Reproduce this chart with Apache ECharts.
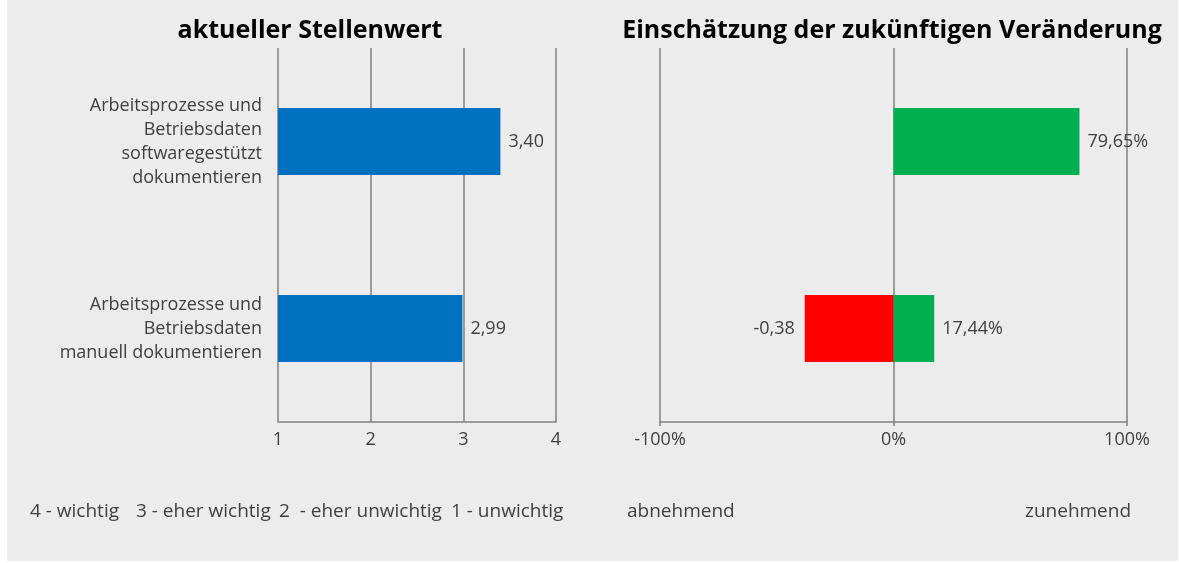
<!DOCTYPE html>
<html>
<head>
<meta charset="utf-8">
<script src="https://cdn.jsdelivr.net/npm/echarts@6/dist/echarts.min.js"></script>
<style>
html,body{margin:0;padding:0;background:#fff;}
#main{width:1179px;height:563px;}
</style>
</head>
<body>
<div id="main"></div>
<script>
// Daten
var categories = [
    'Arbeitsprozesse und\nBetriebsdaten\nmanuell dokumentieren',
    'Arbeitsprozesse und\nBetriebsdaten\nsoftwaregestützt\ndokumentieren'
];
var stellenwert = [2.99, 3.40];
var zunahme = [0.1744, 0.7965];
var abnahme = [-0.38, null];
var legende = ['4 - wichtig', '3 - eher wichtig', '2  - eher unwichtig', '1 - unwichtig'];

var textColor = '#404040';
var lineColor = '#808080';
var fontName = '"Open Sans", "Noto Sans", sans-serif';

function komma(v, n) {
    return v.toFixed(n).replace('.', ',');
}

var legendX = [30, 136, 279, 451];
var graphics = [
    {type: 'rect', z: -10, shape: {x: 7, y: 0, width: 1171, height: 561}, style: {fill: '#ececec'}},
    {type: 'text', left: 627, top: 502, style: {text: 'abnehmend', fill: textColor, font: '19px ' + fontName}},
    {type: 'text', left: 1025, top: 502, style: {text: 'zunehmend', fill: textColor, font: '19px ' + fontName}}
];
for (var i = 0; i < legende.length; i++) {
    graphics.push({type: 'text', left: legendX[i], top: 502,
        style: {text: legende[i], fill: textColor, font: '19px ' + fontName}});
}

var myChart = echarts.init(document.getElementById('main'));

var option = {
    backgroundColor: '#ffffff',
    textStyle: {fontFamily: fontName},
    graphic: graphics,
    title: [
        {text: 'aktueller Stellenwert', left: 305, top: 13, textAlign: 'center',
            textStyle: {fontSize: 25, fontWeight: 'bold', color: '#000', fontFamily: fontName}},
        {text: 'Einschätzung der zukünftigen Veränderung', left: 887, top: 13, textAlign: 'center',
            textStyle: {fontSize: 25, fontWeight: 'bold', color: '#000', fontFamily: fontName}}
    ],
    grid: [
        {left: 278, right: 623, top: 48, bottom: 141},
        {left: 660, right: 52, top: 48, bottom: 141}
    ],
    xAxis: [
        {
            gridIndex: 0, type: 'value', min: 1, max: 4, interval: 1,
            axisLine: {show: true, lineStyle: {color: lineColor, width: 1.5}},
            axisTick: {show: false},
            splitLine: {show: true, lineStyle: {color: lineColor, width: 1.5}},
            axisLabel: {color: textColor, fontSize: 18, margin: 9}
        },
        {
            gridIndex: 1, type: 'value', min: -1, max: 1, interval: 1,
            axisLine: {show: true, onZero: false, lineStyle: {color: lineColor, width: 1.5}},
            axisTick: {show: true, length: 4, lineStyle: {color: lineColor, width: 1.5}},
            splitLine: {show: true, lineStyle: {color: lineColor, width: 1.5}},
            axisLabel: {color: textColor, fontSize: 18, margin: 9,
                formatter: function (v) { return Math.round(v * 100) + '%'; }}
        }
    ],
    yAxis: [
        {
            gridIndex: 0, type: 'category', data: categories,
            axisLine: {show: false}, axisTick: {show: false},
            axisLabel: {color: textColor, fontSize: 18, lineHeight: 24, margin: 16, align: 'right'}
        },
        {
            gridIndex: 1, type: 'category', data: categories,
            axisLine: {show: false}, axisTick: {show: false},
            axisLabel: {show: false}
        }
    ],
    series: [
        {
            name: 'Stellenwert', type: 'bar', xAxisIndex: 0, yAxisIndex: 0,
            data: stellenwert, barWidth: 67,
            itemStyle: {color: '#0070c0'},
            label: {show: true, position: 'right', distance: 8, color: textColor, fontSize: 18,
                formatter: function (p) { return komma(p.value, 2); }}
        },
        {
            name: 'zunehmend', type: 'bar', xAxisIndex: 1, yAxisIndex: 1,
            data: zunahme, barWidth: 67, barGap: '-100%',
            itemStyle: {color: '#00b050'},
            label: {show: true, position: 'right', distance: 8, color: textColor, fontSize: 18,
                formatter: function (p) { return komma(p.value * 100, 2) + '%'; }}
        },
        {
            name: 'abnehmend', type: 'bar', xAxisIndex: 1, yAxisIndex: 1,
            data: abnahme, barWidth: 67, barGap: '-100%',
            itemStyle: {color: '#ff0000'},
            label: {show: true, position: 'left', distance: 10, color: textColor, fontSize: 18,
                formatter: function (p) { return p.value == null ? '' : komma(p.value, 2); }}
        }
    ]
};

myChart.setOption(option);
</script>
</body>
</html>
